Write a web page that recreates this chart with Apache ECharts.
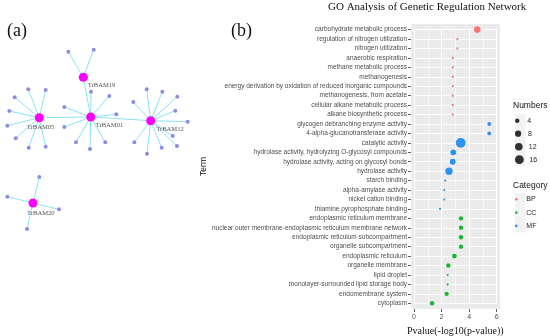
<!DOCTYPE html>
<html><head><meta charset="utf-8">
<script src="https://cdn.jsdelivr.net/npm/echarts@6/dist/echarts.min.js"></script>
<style>html,body{margin:0;padding:0;background:#fff}#c{width:550px;height:336px}</style>
</head><body><div id="c"></div>
<script>
// ---------- GO analysis data ----------
const terms = [
 'carbohydrate metabolic process','regulation of nitrogen utilization','nitrogen utilization','anaerobic respiration',
 'methane metabolic process','methanogenesis','energy derivation by oxidation of reduced inorganic compounds',
 'methanogenesis, from acetate','cellular alkane metabolic process','alkane biosynthetic process',
 'glycogen debranching enzyme activity','4-alpha-glucanotransferase activity','catalytic activity',
 'hydrolase activity, hydrolyzing O-glycosyl compounds','hydrolase activity, acting on glycosyl bonds',
 'hydrolase activity','starch binding','alpha-amylase activity','nickel cation binding','thiamine pyrophosphate binding',
 'endoplasmic reticulum membrane','nuclear outer membrane-endoplasmic reticulum membrane network',
 'endoplasmic reticulum subcompartment','organelle subcompartment','endoplasmic reticulum','organelle membrane',
 'lipid droplet','monolayer-surrounded lipid storage body','endomembrane system','cytoplasm'];
const pvals = [4.59,3.14,3.14,2.81,2.81,2.81,2.81,2.81,2.81,2.81,
               5.46,5.46,3.39,2.85,2.81,2.54,2.27,2.2,2.2,1.89,
               3.41,3.41,3.41,3.41,2.93,2.49,2.44,2.44,2.37,1.31];
const counts = [9,1,1,1,1,1,1,1,1,1,
                3,3,20,7,7,11,1,1,1,1,
                4,4,4,4,5,4,1,1,4,4];
const cats = ['BP','BP','BP','BP','BP','BP','BP','BP','BP','BP',
              'MF','MF','MF','MF','MF','MF','MF','MF','MF','MF',
              'CC','CC','CC','CC','CC','CC','CC','CC','CC','CC'];
const catNames = ['BP','CC','MF'];
const sizeBreaks = [4,8,12,16];
const xMin = 0, xMax = 6, xStep = 2;

// ---------- network data ----------
const hubNames = ['TrBAM19','TrBAM01','TrBAM05','TrBAM12','TrBAM20'];
const hubX = [83.3,90.7,39.3,150.7,33];
const hubY = [77.3,117,117.7,120.7,203];
const leafHub = [0,0, 1,1,1,1,1,1,1,1, 2,2,2,2,2,2,2,2, 3,3,3,3,3,3,3,3,3,3,3, 4,4,4,4];
const leafX = [68.3,93.7, 91,109.3,64.3,116.3,64.3,76,90,105.3,
               28.3,45.7,14.7,9.3,7.3,15.7,28.7,45.7,
               146.7,162.3,133.3,177.3,175.3,187.7,172.7,177,161.7,147,134.3,
               39.3,7.3,59,27];
const leafY = [51.7,49.7, 91.7,96,107,114.3,127,142.3,149,142.3,
               89.3,90,97.3,111,125.7,138.3,147.7,146.7,
               89.3,91.7,102,96.7,110.7,121.7,136,146,147.7,153.7,142.3,
               177,196.7,209.3,229];
const hubLinks = [[0,1],[2,1],[1,3]];

// ---------- styles ----------
const catColor = {BP:'#F8766D', CC:'#1DB534', MF:'#2D93F0'};
const sizeOf = n => 2.2*Math.sqrt(n);
const hubLabelPos = {TrBAM19:[9,12.5], TrBAM01:[9.5,13], TrBAM05:[-8,14.5], TrBAM12:[10,13], TrBAM20:[-1.5,15]};
const SANS = 'Liberation Sans', SERIF = 'Liberation Serif';

const nodes = [], links = [];
hubNames.forEach((h,i)=>{
  nodes.push({name:h, value:[hubX[i],hubY[i]], symbolSize:9, itemStyle:{color:'#ff00ff'},
    label:{show:true, formatter:h, position:hubLabelPos[h], align:'left', verticalAlign:'middle',
      fontFamily:SERIF, fontSize:6.6, color:'#555'}});
});
leafX.forEach((x,i)=>{
  const nm='leaf'+i;
  nodes.push({name:nm, value:[x,leafY[i]], symbolSize:4, itemStyle:{color:'#8c8ce6'}, label:{show:false}});
  links.push({source:hubNames[leafHub[i]], target:nm});
});
hubLinks.forEach(([a,b])=>links.push({source:hubNames[a], target:hubNames[b]}));

const idx = terms.map((t,i)=>i);
const series = [{
  type:'graph', coordinateSystem:'cartesian2d', xAxisIndex:0, yAxisIndex:0,
  data:nodes, links:links, silent:true,
  lineStyle:{color:'#8ae4ee', width:1, opacity:1}, emphasis:{disabled:true}
}];
catNames.forEach(c=>{
  series.push({type:'scatter', name:c, xAxisIndex:1, yAxisIndex:1,
    data: idx.filter(i=>cats[i]===c).map(i=>[pvals[i], terms[i], counts[i]]),
    symbolSize: v=>sizeOf(v[2]), itemStyle:{color:catColor[c], opacity:1}, z:5});
});
sizeBreaks.forEach(n=>{
  series.push({type:'scatter', name:String(n), xAxisIndex:1, yAxisIndex:1, data:[], itemStyle:{color:'#000'}});
});

const legends = [];
sizeBreaks.forEach((n,k)=>{
  legends.push({data:[String(n)], left:515, top:120.7+k*13 - 6.5, orient:'vertical', padding:0,
    itemWidth:10, itemHeight:sizeOf(n), icon:'circle', selectedMode:false,
    textStyle:{fontFamily:SANS, fontSize:7, color:'#222', lineHeight:13}});
});
catNames.forEach((c,k)=>{
  legends.push({data:[c], left:515, top:199.3+k*13.3 - 6.5, orient:'vertical', padding:0,
    itemWidth:10, itemHeight:2.6, icon:'circle', selectedMode:false,
    textStyle:{fontFamily:SANS, fontSize:7, color:'#222', lineHeight:13}});
});

const option = {
  animation:false,
  title:[
    {text:'(a)', left:7, top:22, padding:0, textStyle:{fontFamily:SERIF, fontSize:18, fontWeight:'normal', color:'#111'}},
    {text:'(b)', left:231, top:22, padding:0, textStyle:{fontFamily:SERIF, fontSize:18, fontWeight:'normal', color:'#111'}},
    {text:'GO Analysis of Genetic Regulation Network', left:328, top:2, padding:0, textStyle:{fontFamily:SERIF, fontSize:11, fontWeight:'normal', color:'#111'}},
    {text:'Numbers', left:513, top:101, padding:0, textStyle:{fontFamily:SANS, fontSize:8.5, fontWeight:'normal', color:'#111'}},
    {text:'Category', left:513, top:181, padding:0, textStyle:{fontFamily:SANS, fontSize:8.5, fontWeight:'normal', color:'#111'}}
  ],
  legend:legends,
  graphic:[
    {type:'rect', left:515, top:114, shape:{width:10.5, height:52}, style:{fill:'#f2f2f2'}, z:-1, silent:true},
    {type:'rect', left:515, top:193, shape:{width:10.5, height:39.5}, style:{fill:'#f2f2f2'}, z:-1, silent:true},
    // plot panel background (data box plus ggplot-style expansion)
    {type:'rect', left:411, top:24, shape:{width:89, height:285}, style:{fill:'#ebebeb'}, z:-1, silent:true}
  ],
  grid:[
    {left:0, top:0, width:200, height:240, show:false, outerBoundsMode:'none', containLabel:false},
    {left:414, top:29.6, width:82.7, height:273.7, show:false, outerBoundsMode:'none', containLabel:false}
  ],
  xAxis:[
    {gridIndex:0, type:'value', min:0, max:200, show:false},
    {gridIndex:1, type:'value', min:xMin, max:xMax, interval:xStep, offset:5.7,
      axisLine:{show:false},
      axisTick:{show:true, length:3, lineStyle:{color:'#333', width:0.8}},
      axisLabel:{fontFamily:SANS, fontSize:7, color:'#4d4d4d', margin:5},
      splitLine:{show:true, lineStyle:{color:'#fff', width:1}},
      minorTick:{show:false, splitNumber:2},
      minorSplitLine:{show:true, lineStyle:{color:'#fff', width:0.5}},
      name:'Pvalue(-log10(p-value))', nameLocation:'middle', nameGap:8,
      nameTextStyle:{fontFamily:SERIF, fontSize:10, color:'#111'}}
  ],
  yAxis:[
    {gridIndex:0, type:'value', min:0, max:240, inverse:true, show:false},
    {gridIndex:1, type:'category', data:terms, inverse:true, boundaryGap:false, offset:3,
      axisLine:{show:false, onZero:false},
      axisTick:{show:true, interval:0, length:3, lineStyle:{color:'#333', width:0.8}},
      axisLabel:{interval:0, fontFamily:SANS, fontSize:6.5, color:'#4d4d4d', margin:4},
      splitLine:{show:true, interval:0, lineStyle:{color:'#fff', width:1}},
      name:'Term', nameLocation:'middle', nameGap:194, nameRotate:90,
      nameTextStyle:{fontFamily:SANS, fontSize:8.5, color:'#111'}}
  ],
  series:series
};
const chart = echarts.init(document.getElementById('c'), null, {renderer:'canvas'});
chart.setOption(option);
</script></body></html>
